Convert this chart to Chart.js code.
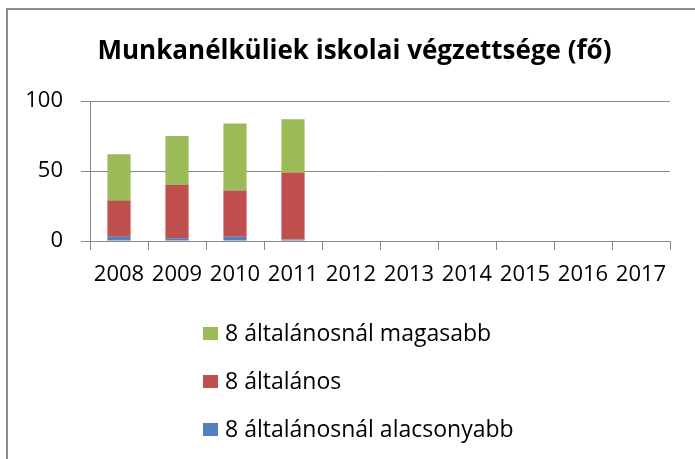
<!DOCTYPE html>
<html>
<head>
<meta charset="utf-8">
<script src="https://cdn.jsdelivr.net/npm/chart.js@4"></script>
<style>
  html, body { margin: 0; padding: 0; background: #fff; }
  #wrap { position: relative; width: 695px; height: 459px; }
</style>
</head>
<body>
<div id="wrap"><canvas id="c" width="695" height="459"></canvas></div>
<script>
const categories = ['2008','2009','2010','2011','2012','2013','2014','2015','2016','2017'];
const seriesNames = ['8 általánosnál alacsonyabb', '8 általános', '8 általánosnál magasabb'];
const lowerValues = [3, 2, 3, 1, null, null, null, null, null, null];
const primaryValues = [26, 38, 33, 48, null, null, null, null, null, null];
const higherValues = [33, 35, 48, 38, null, null, null, null, null, null];
const yTicks = [0, 50, 100];
const titleText = 'Munkanélküliek iskolai végzettsége (fő)';

const FONT = '"Open Sans", "Noto Sans", sans-serif';
const gridColor = '#898989';

const frame = {
  id: 'frame',
  beforeDraw(chart) {
    const ctx = chart.ctx;
    ctx.save();
    ctx.strokeStyle = '#8c8c8c';
    ctx.lineWidth = 2;
    ctx.beginPath();
    ctx.moveTo(7, 459);
    ctx.lineTo(7, 9);
    ctx.lineTo(695, 9);
    ctx.stroke();
    ctx.restore();
  }
};

const titleAndLegend = {
  id: 'titleAndLegend',
  afterDraw(chart) {
    const ctx = chart.ctx;
    ctx.save();
    // title
    ctx.font = 'bold 26px ' + FONT;
    ctx.fillStyle = '#000';
    ctx.textAlign = 'center';
    ctx.textBaseline = 'middle';
    ctx.fillText(titleText, 354.5, 51.6);
    // vertical legend
    const ds = chart.data.datasets.slice().reverse();
    ctx.font = '23px ' + FONT;
    ctx.textBaseline = 'alphabetic';
    ctx.textAlign = 'left';
    ds.forEach((d, i) => {
      const cy = 333 + i * 48;
      ctx.fillStyle = d.backgroundColor;
      ctx.fillRect(203, cy - 6, 15, 13);
      ctx.fillStyle = '#000';
      ctx.fillText(d.label, 225, cy + 8);
    });
    ctx.restore();
  }
};

new Chart(document.getElementById('c'), {
  type: 'bar',
  data: {
    labels: categories,
    datasets: [
      { label: seriesNames[0], data: lowerValues, backgroundColor: '#4F81BD' },
      { label: seriesNames[1], data: primaryValues, backgroundColor: '#C0504D' },
      { label: seriesNames[2], data: higherValues, backgroundColor: '#9BBB59' }
    ]
  },
  options: {
    responsive: false,
    animation: false,
    devicePixelRatio: 1,
    layout: { padding: { left: 0, right: 25, top: 101, bottom: 178 } },
    datasets: { bar: { categoryPercentage: 1, barPercentage: 0.4 } },
    plugins: {
      legend: { display: false },
      tooltip: { enabled: false },
      title: { display: false }
    },
    scales: {
      x: {
        stacked: true,
        offset: true,
        grid: { display: true, offset: true, drawOnChartArea: false, color: gridColor, tickLength: 9, lineWidth: 1 },
        border: { display: true, color: gridColor, width: 1 },
        ticks: { color: '#000', font: { family: FONT, size: 22 }, padding: 12, maxRotation: 0, autoSkip: false },
        afterFit(s) { s.height = 40; }
      },
      y: {
        stacked: true,
        min: 0,
        max: 100,
        afterBuildTicks(s) { s.ticks = yTicks.map(v => ({ value: v })); },
        grid: { color: gridColor, tickLength: 9, lineWidth: 1 },
        border: { display: true, color: gridColor, width: 1 },
        ticks: { color: '#000', font: { family: FONT, size: 22 }, padding: 18 },
        afterFit(s) { s.width = 90; }
      }
    }
  },
  plugins: [frame, titleAndLegend]
});
</script>
</body>
</html>
